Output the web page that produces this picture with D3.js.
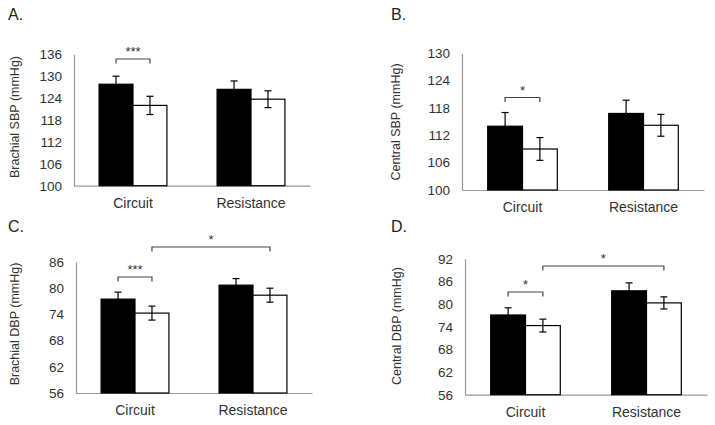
<!DOCTYPE html>
<html>
<head>
<meta charset="utf-8">
<script src="https://cdn.jsdelivr.net/npm/d3@7/dist/d3.min.js"></script>
<style>
  html, body { margin: 0; padding: 0; background: #fff; }
  svg { display: block; font-family: "Liberation Sans", Arial, sans-serif; }
</style>
</head>
<body>
<svg id="chart" width="715" height="425"></svg>
<script>
// ---------- DATA ----------
const categories = ["Circuit", "Resistance"];
const seriesNames = ["black", "white"];

const ticksBrachialSBP = [100, 106, 112, 118, 124, 130, 136];
const ticksCentralSBP  = [100, 106, 112, 118, 124, 130];
const ticksBrachialDBP = [56, 62, 68, 74, 80, 86];
const ticksCentralDBP  = [56, 62, 68, 74, 80, 86, 92];

// A. Brachial SBP
const brachialSBPBlack    = [127.8, 126.4];
const brachialSBPBlackErr = [2.2, 2.3];
const brachialSBPWhite    = [122.0, 123.7];
const brachialSBPWhiteErr = [2.5, 2.3];
// B. Central SBP
const centralSBPBlack    = [114.0, 116.8];
const centralSBPBlackErr = [3.0, 2.9];
const centralSBPWhite    = [109.0, 114.2];
const centralSBPWhiteErr = [2.5, 2.4];
// C. Brachial DBP
const brachialDBPBlack    = [77.5, 80.7];
const brachialDBPBlackErr = [1.6, 1.5];
const brachialDBPWhite    = [74.3, 78.4];
const brachialDBPWhiteErr = [1.6, 1.6];
// D. Central DBP
const centralDBPBlack    = [77.1, 83.5];
const centralDBPBlackErr = [1.9, 2.1];
const centralDBPWhite    = [74.3, 80.3];
const centralDBPWhiteErr = [1.7, 1.6];

// significance brackets: [fromCategory, fromSeries, toCategory, toSeries, label]
const sigA = [["Circuit", "black", "Circuit", "white", "***"]];
const sigB = [["Circuit", "black", "Circuit", "white", "*"]];
const sigC = [["Circuit", "black", "Circuit", "white", "***"],
              ["Circuit", "white", "Resistance", "white", "*"]];
const sigD = [["Circuit", "black", "Circuit", "white", "*"],
              ["Circuit", "white", "Resistance", "white", "*"]];

// ---------- LAYOUT ----------
const panels = [
  { label: "A.", title: "Brachial SBP (mmHg)", ticks: ticksBrachialSBP,
    black: brachialSBPBlack, blackErr: brachialSBPBlackErr, white: brachialSBPWhite, whiteErr: brachialSBPWhiteErr,
    sig: sigA, sigY: [59], labelPos: [8, 20], titleX: 15, titleY: 117,
    x0: 74, x1: 310, yTop: 54.3, yBot: 185.7 },
  { label: "B.", title: "Central SBP (mmHg)", ticks: ticksCentralSBP,
    black: centralSBPBlack, blackErr: centralSBPBlackErr, white: centralSBPWhite, whiteErr: centralSBPWhiteErr,
    sig: sigB, sigY: [97.5], labelPos: [391, 20], titleX: 396, titleY: 122,
    x0: 462, x1: 704, yTop: 53.3, yBot: 190 },
  { label: "C.", title: "Brachial DBP (mmHg)", ticks: ticksBrachialDBP,
    black: brachialDBPBlack, blackErr: brachialDBPBlackErr, white: brachialDBPWhite, whiteErr: brachialDBPWhiteErr,
    sig: sigC, sigY: [277, 247], labelPos: [8, 232], titleX: 15, titleY: 324,
    x0: 76, x1: 312, yTop: 262, yBot: 393 },
  { label: "D.", title: "Central DBP (mmHg)", ticks: ticksCentralDBP,
    black: centralDBPBlack, blackErr: centralDBPBlackErr, white: centralDBPWhite, whiteErr: centralDBPWhiteErr,
    sig: sigD, sigY: [292, 266], labelPos: [391, 232], titleX: 397, titleY: 326,
    x0: 465, x1: 707, yTop: 258.7, yBot: 394.7 }
];

const textColor = "#333";
const axisColor = "#999";
const svg = d3.select("#chart");

panels.forEach(p => {
  const g = svg.append("g");
  const y = d3.scaleLinear()
    .domain([p.ticks[0], p.ticks[p.ticks.length - 1]])
    .range([p.yBot, p.yTop]);
  const x = d3.scaleBand().domain(categories)
    .range([p.x0, p.x1]).paddingInner(0.425).paddingOuter(0.2125);
  const xs = d3.scaleBand().domain(seriesNames).range([0, x.bandwidth()]);

  // y axis
  const ya = g.append("g").attr("transform", `translate(${p.x0},0)`)
    .call(d3.axisLeft(y).tickValues(p.ticks).tickSize(0).tickPadding(12).tickFormat(d3.format("d")));
  ya.select(".domain").attr("stroke", axisColor).attr("stroke-width", 1.2);
  ya.selectAll("text").attr("fill", textColor).style("font-size", "13.5px")
    .style("font-family", "'Liberation Sans', Arial, sans-serif");

  // x axis
  const xa = g.append("g").attr("transform", `translate(0,${p.yBot})`)
    .call(d3.axisBottom(x).tickSize(0).tickPadding(12.5));
  xa.select(".domain").attr("stroke", axisColor).attr("stroke-width", 1.2);
  xa.selectAll("text").attr("fill", textColor).style("font-size", "14px")
    .style("font-family", "'Liberation Sans', Arial, sans-serif");

  // bars
  const rows = [];
  categories.forEach((c, i) => {
    rows.push({ cat: c, s: "black", v: p.black[i], e: p.blackErr[i] });
    rows.push({ cat: c, s: "white", v: p.white[i], e: p.whiteErr[i] });
  });
  const base = p.ticks[0];
  g.selectAll("rect.bar").data(rows).join("rect")
    .attr("class", "bar")
    .attr("x", d => x(d.cat) + xs(d.s))
    .attr("y", d => y(d.v))
    .attr("width", xs.bandwidth())
    .attr("height", d => y(base) - y(d.v))
    .attr("fill", d => d.s === "black" ? "#000" : "#fff")
    .attr("stroke", "#000").attr("stroke-width", 1.2);

  // error bars
  const cx = d => x(d.cat) + xs(d.s) + xs.bandwidth() / 2;
  const eb = g.selectAll("g.err").data(rows).join("g").attr("class", "err")
    .attr("stroke", "#000").attr("stroke-width", 1.2);
  eb.append("line").attr("x1", cx).attr("x2", cx)
    .attr("y1", d => y(d.v + d.e)).attr("y2", d => y(d.v - d.e));
  eb.append("line").attr("x1", d => cx(d) - 3.5).attr("x2", d => cx(d) + 3.5)
    .attr("y1", d => y(d.v + d.e)).attr("y2", d => y(d.v + d.e));
  eb.append("line").attr("x1", d => cx(d) - 3.5).attr("x2", d => cx(d) + 3.5)
    .attr("y1", d => y(d.v - d.e)).attr("y2", d => y(d.v - d.e));

  // significance brackets
  p.sig.forEach((s, i) => {
    const xa1 = x(s[0]) + xs(s[1]) + xs.bandwidth() / 2;
    const xa2 = x(s[2]) + xs(s[3]) + xs.bandwidth() / 2;
    const yy = p.sigY[i];
    g.append("path")
      .attr("d", `M${xa1},${yy + 4.5}V${yy}H${xa2}V${yy + 4.5}`)
      .attr("fill", "none").attr("stroke", "#444").attr("stroke-width", 1.2);
    g.append("text")
      .attr("x", (xa1 + xa2) / 2).attr("y", yy - 3)
      .attr("text-anchor", "middle").attr("fill", textColor)
      .style("font-size", "13px").text(s[4]);
  });

  // y title
  g.append("text")
    .attr("transform", `translate(${p.titleX},${p.titleY}) rotate(-90)`)
    .attr("text-anchor", "middle").attr("dominant-baseline", "central")
    .attr("fill", textColor).style("font-size", "12.5px").text(p.title);

  // panel label
  g.append("text").attr("x", p.labelPos[0]).attr("y", p.labelPos[1])
    .attr("fill", "#222").style("font-size", "16px").text(p.label);
});
</script>
</body>
</html>
